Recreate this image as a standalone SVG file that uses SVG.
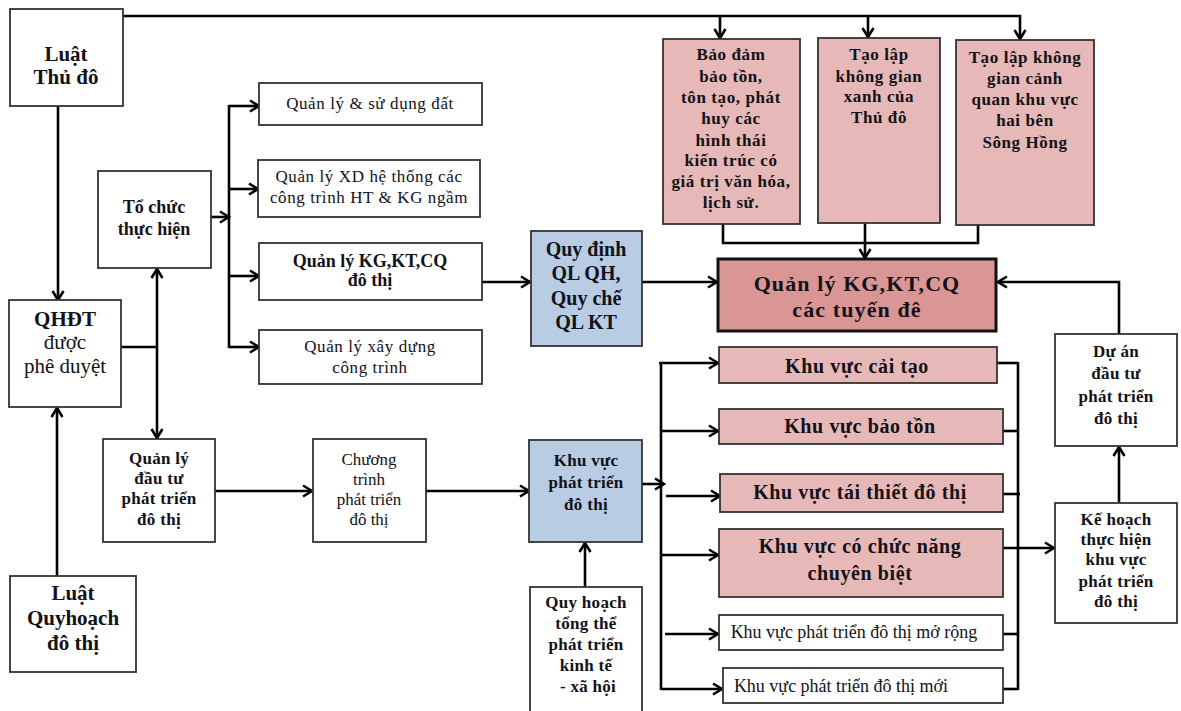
<svg xmlns="http://www.w3.org/2000/svg" width="1181" height="711" viewBox="0 0 1181 711">
  <defs>
    <marker id="arr" viewBox="0 0 12 14" refX="10.5" refY="7" markerWidth="12" markerHeight="14" markerUnits="userSpaceOnUse" orient="auto">
      <path d="M1.5,1.5 L10.5,7 L1.5,12.5" fill="none" stroke="#000" stroke-width="2.6" stroke-linejoin="miter"/>
    </marker>
    <style>
      .box { fill: #fff; stroke: #333; stroke-width: 1.8; }
      .pink { fill: #e6b8b7; stroke: #333; stroke-width: 1.8; }
      .blue { fill: #b8cce4; stroke: #333; stroke-width: 1.8; }
      .main { fill: #d99694; stroke: #111; stroke-width: 3; }
      text { font-family: "Liberation Serif", "Times New Roman", serif; fill: #121218; text-anchor: middle; }
      .b { font-weight: bold; }
      .s21 { font-size: 21px; }
      .s20 { font-size: 20px; }
      .s18 { font-size: 18px; }
      .s17 { font-size: 17px; }
      .s16 { font-size: 16px; }
      .ls { letter-spacing: 0.6px; }
      .ls3 { letter-spacing: 0.3px; }
      .wire { fill: none; stroke: #000; stroke-width: 2.6; }
      .arrow { marker-end: url(#arr); }
    </style>
  </defs>

  <rect width="1181" height="711" fill="#fff"/>

  <!-- connectors -->
  <g id="connectors">
    <!-- top bus from Luat Thu do -->
    <path class="wire arrow" d="M123,16 H1020 V39"/>
    <path class="wire arrow" d="M720,16 V38"/>
    <path class="wire arrow" d="M868,16 V37"/>
    <!-- laws into QHDT -->
    <path class="wire arrow" d="M58,106 V300"/>
    <path class="wire arrow" d="M57,576 V408"/>
    <!-- QHDT split -->
    <path class="wire" d="M121,347 H157"/>
    <path class="wire arrow" d="M157,347 V269"/>
    <path class="wire arrow" d="M157,347 V438"/>
    <!-- To chuc thuc hien bus -->
    <path class="wire arrow" d="M211,217 H229"/>
    <path class="wire" d="M229,105 V348"/>
    <path class="wire arrow" d="M229,106 H259"/>
    <path class="wire arrow" d="M229,189 H258"/>
    <path class="wire arrow" d="M229,276 H259"/>
    <path class="wire arrow" d="M229,347 H259"/>
    <!-- into Quy dinh and main box -->
    <path class="wire arrow" d="M482,282 H530"/>
    <path class="wire arrow" d="M642,282 H717"/>
    <!-- pink boxes merge -->
    <path class="wire" d="M723,224 V243 H978 V225"/>
    <path class="wire arrow" d="M865,223 V258"/>
    <!-- Du an to main box -->
    <path class="wire arrow" d="M1119,334 V282 H998"/>
    <path class="wire arrow" d="M1119,502 V447"/>
    <!-- investment chain -->
    <path class="wire arrow" d="M215,491 H312"/>
    <path class="wire arrow" d="M426,491 H529"/>
    <path class="wire arrow" d="M585,587 V543"/>
    <!-- left collector to zones -->
    <path class="wire arrow" d="M642,484 H664"/>
    <path class="wire" d="M661,362 V690"/>
    <path class="wire arrow" d="M659,363 H718"/>
    <path class="wire arrow" d="M661,431 H718"/>
    <path class="wire arrow" d="M666,496 H720"/>
    <path class="wire arrow" d="M661,555 H718"/>
    <path class="wire arrow" d="M665,634 H718"/>
    <path class="wire arrow" d="M661,689 H722"/>
    <!-- right collector -->
    <path class="wire" d="M1018,362 V690"/>
    <path class="wire" d="M997,363 H1018"/>
    <path class="wire" d="M1003,431 H1018"/>
    <path class="wire" d="M1003,494 H1020"/>
    <path class="wire arrow" d="M1003,548 H1054"/>
    <path class="wire" d="M1003,634 H1018"/>
    <path class="wire" d="M1003,689 H1018"/>
  </g>

  <g id="luat-thu-do">
    <rect class="box" x="10" y="9" width="113" height="97"/>
    <text class="b s21" x="66" y="61">Luật</text>
    <text class="b s21" x="66" y="84">Thủ đô</text>
  </g>

  <g id="qhdt">
    <rect class="box" x="9" y="300" width="112" height="107"/>
    <text class="b s21" x="65" y="326">QHĐT</text>
    <text class="s21" x="65" y="349">được</text>
    <text class="s21" x="65" y="373">phê duyệt</text>
  </g>

  <g id="luat-quy-hoach">
    <rect class="box" x="10" y="576" width="126" height="96"/>
    <text class="b s21" x="73" y="600">Luật</text>
    <text class="b s21" x="73" y="625">Quyhoạch</text>
    <text class="b s21" x="73" y="650">đô thị</text>
  </g>

  <g id="to-chuc">
    <rect class="box" x="98" y="171" width="113" height="97"/>
    <text class="b s18" x="154" y="213">Tổ chức</text>
    <text class="b s18" x="154" y="235">thực hiện</text>
  </g>

  <g id="ql-dat">
    <rect class="box" x="259" y="83" width="223" height="42"/>
    <text class="s17 ls" x="370" y="109">Quản lý &amp; sử dụng đất</text>
  </g>

  <g id="ql-ht">
    <rect class="box" x="258" y="160" width="222" height="57"/>
    <text class="s17 ls" x="369" y="182">Quản lý XD hệ thống các</text>
    <text class="s17 ls" x="369" y="203">công trình HT &amp; KG ngầm</text>
  </g>

  <g id="ql-kg-do-thi">
    <rect class="box" x="259" y="243" width="223" height="57"/>
    <text class="b s18" x="370" y="267">Quản lý KG,KT,CQ</text>
    <text class="b s18" x="370" y="286">đô thị</text>
  </g>

  <g id="ql-xd">
    <rect class="box" x="259" y="330" width="223" height="54"/>
    <text class="s17 ls" x="370" y="352">Quản lý xây dựng</text>
    <text class="s17 ls" x="370" y="373">công trình</text>
  </g>

  <g id="quy-dinh">
    <rect class="blue" x="531" y="231" width="111" height="115"/>
    <text class="b s20" x="586" y="256">Quy định</text>
    <text class="b s20" x="586" y="280">QL QH,</text>
    <text class="b s20" x="586" y="305">Quy chế</text>
    <text class="b s20" x="586" y="329">QL KT</text>
  </g>

  <g id="ql-tuyen-de">
    <rect class="main" x="718" y="259" width="278" height="72"/>
    <text class="b" x="857" y="291" style="font-size:22px;letter-spacing:1.1px">Quản lý KG,KT,CQ</text>
    <text class="b" x="857" y="317" style="font-size:22px;letter-spacing:1.1px">các tuyến đê</text>
  </g>

  <g id="bao-dam">
    <rect class="pink" x="663" y="39" width="137" height="185"/>
    <text class="b s17 ls" x="731" y="60">Bảo đảm</text>
    <text class="b s17 ls" x="731" y="82">bảo tồn,</text>
    <text class="b s17 ls" x="731" y="103">tôn tạo, phát</text>
    <text class="b s17 ls" x="731" y="124">huy các</text>
    <text class="b s17 ls" x="731" y="146">hình thái</text>
    <text class="b s17 ls" x="731" y="166">kiến trúc có</text>
    <text class="b s17 ls" x="731" y="187">giá trị văn hóa,</text>
    <text class="b s17 ls" x="731" y="208">lịch sử.</text>
  </g>

  <g id="khong-gian-xanh">
    <rect class="pink" x="818" y="38" width="122" height="185"/>
    <text class="b s17 ls" x="879" y="60">Tạo lập</text>
    <text class="b s17 ls" x="879" y="82">không gian</text>
    <text class="b s17 ls" x="879" y="102">xanh của</text>
    <text class="b s17 ls" x="879" y="123">Thủ đô</text>
  </g>

  <g id="song-hong">
    <rect class="pink" x="956" y="40" width="138" height="185"/>
    <text class="b s17 ls" x="1025" y="63">Tạo lập không</text>
    <text class="b s17 ls" x="1025" y="84">gian cảnh</text>
    <text class="b s17 ls" x="1025" y="105">quan khu vực</text>
    <text class="b s17 ls" x="1025" y="126">hai bên</text>
    <text class="b s17 ls" x="1025" y="148">Sông Hồng</text>
  </g>

  <g id="du-an">
    <rect class="box" x="1055" y="334" width="122" height="112"/>
    <text class="b s17 ls3" x="1116" y="357">Dự án</text>
    <text class="b s17 ls3" x="1116" y="379">đầu tư</text>
    <text class="b s17 ls3" x="1116" y="402">phát triển</text>
    <text class="b s17 ls3" x="1116" y="424">đô thị</text>
  </g>

  <g id="ke-hoach">
    <rect class="box" x="1055" y="503" width="122" height="120"/>
    <text class="b s17 ls3" x="1116" y="525">Kế hoạch</text>
    <text class="b s17 ls3" x="1116" y="545">thực hiện</text>
    <text class="b s17 ls3" x="1116" y="565">khu vực</text>
    <text class="b s17 ls3" x="1116" y="587">phát triển</text>
    <text class="b s17 ls3" x="1116" y="607">đô thị</text>
  </g>

  <g id="ql-dau-tu">
    <rect class="box" x="103" y="439" width="112" height="103"/>
    <text class="b s17 ls3" x="159" y="464">Quản lý</text>
    <text class="b s17 ls3" x="159" y="484">đầu tư</text>
    <text class="b s17 ls3" x="159" y="504">phát triển</text>
    <text class="b s17 ls3" x="159" y="525">đô thị</text>
  </g>

  <g id="chuong-trinh">
    <rect class="box" x="313" y="439" width="113" height="103"/>
    <text class="s17" x="369" y="465">Chương</text>
    <text class="s17" x="369" y="485">trình</text>
    <text class="s17" x="369" y="505">phát triển</text>
    <text class="s17" x="369" y="525">đô thị</text>
  </g>

  <g id="khu-vuc-phat-trien">
    <rect class="blue" x="529" y="440" width="113" height="102"/>
    <text class="b s17 ls3" x="586" y="466">Khu vực</text>
    <text class="b s17 ls3" x="586" y="488">phát triển</text>
    <text class="b s17 ls3" x="586" y="510">đô thị</text>
  </g>

  <g id="quy-hoach-tong-the">
    <rect class="box" x="530" y="587" width="112" height="130"/>
    <text class="b s17 ls3" x="586" y="608">Quy hoạch</text>
    <text class="b s17 ls3" x="586" y="629">tổng thể</text>
    <text class="b s17 ls3" x="586" y="650">phát triển</text>
    <text class="b s17 ls3" x="586" y="671">kinh tế</text>
    <text class="b s17 ls3" x="588" y="692">- xã hội</text>
  </g>

  <g id="kv-cai-tao">
    <rect class="pink" x="719" y="347" width="278" height="36"/>
    <text class="b s20 ls" x="857" y="373">Khu vực cải tạo</text>
  </g>

  <g id="kv-bao-ton">
    <rect class="pink" x="719" y="409" width="284" height="35"/>
    <text class="b s20 ls" x="860" y="433">Khu vực bảo tồn</text>
  </g>

  <g id="kv-tai-thiet">
    <rect class="pink" x="720" y="474" width="283" height="38"/>
    <text class="b s20 ls" x="860" y="499">Khu vực tái thiết đô thị</text>
  </g>

  <g id="kv-chuc-nang">
    <rect class="pink" x="719" y="529" width="284" height="68"/>
    <text class="b s20 ls" x="860" y="553">Khu vực có chức năng</text>
    <text class="b s20 ls" x="860" y="580">chuyên biệt</text>
  </g>

  <g id="kv-mo-rong">
    <rect class="box" x="719" y="615" width="284" height="35"/>
    <text class="s18" x="854" y="638">Khu vực phát triển đô thị mở rộng</text>
  </g>

  <g id="kv-moi">
    <rect class="box" x="723" y="668" width="280" height="35"/>
    <text class="s18" x="841" y="692">Khu vực phát triển đô thị mới</text>
  </g>
</svg>
